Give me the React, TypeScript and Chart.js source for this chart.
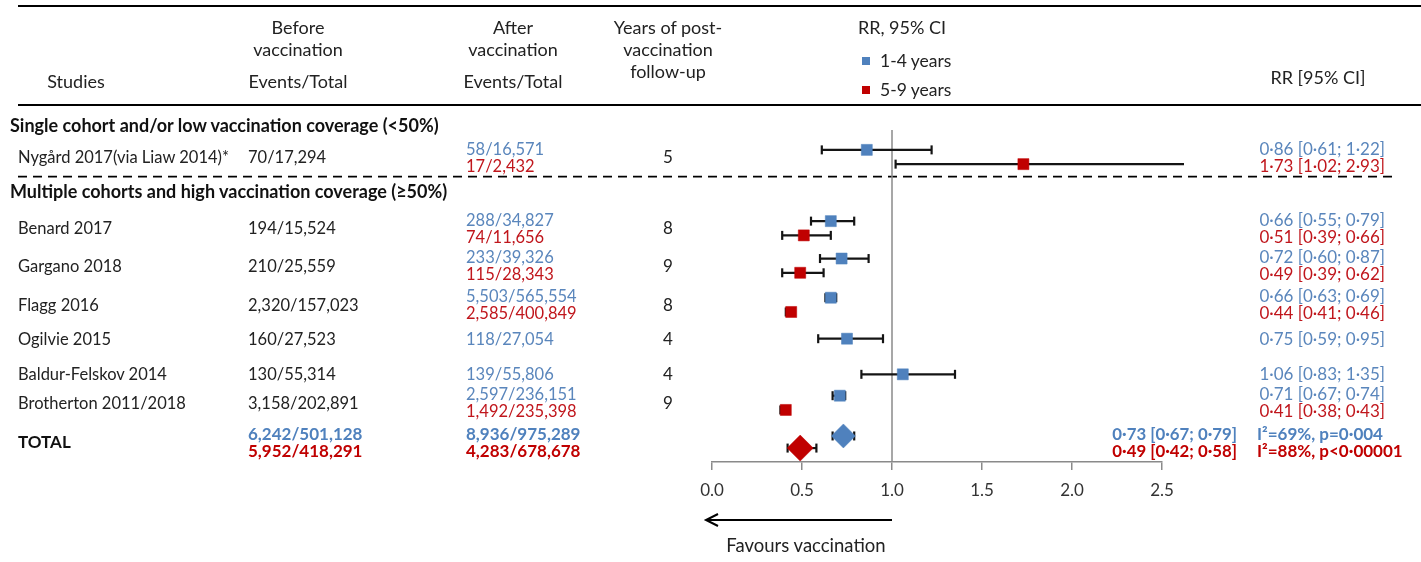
import React, { useEffect, useRef } from "react";
import { Chart, registerables } from "chart.js";

Chart.register(...registerables);

// ---------------- data ----------------
const studies = [
  "Nygård 2017(via Liaw 2014)*",
  "Benard 2017",
  "Gargano 2018",
  "Flagg 2016",
  "Ogilvie 2015",
  "Baldur-Felskov 2014",
  "Brotherton 2011/2018",
];
const beforeEvents = ["70/17,294", "194/15,524", "210/25,559", "2,320/157,023", "160/27,523", "130/55,314", "3,158/202,891"];
const afterShort = ["58/16,571", "288/34,827", "233/39,326", "5,503/565,554", "118/27,054", "139/55,806", "2,597/236,151"];
const afterLong: (string | null)[] = ["17/2,432", "74/11,656", "115/28,343", "2,585/400,849", null, null, "1,492/235,398"];
const followUpYears = [5, 8, 9, 8, 4, 4, 9];

const rrShort = [0.86, 0.66, 0.72, 0.66, 0.75, 1.06, 0.71];
const loShort = [0.61, 0.55, 0.6, 0.63, 0.59, 0.83, 0.67];
const hiShort = [1.22, 0.79, 0.87, 0.69, 0.95, 1.35, 0.74];
const rrLong: (number | null)[] = [1.73, 0.51, 0.49, 0.44, null, null, 0.41];
const loLong: (number | null)[] = [1.02, 0.39, 0.39, 0.41, null, null, 0.38];
const hiLong: (number | null)[] = [2.93, 0.66, 0.62, 0.46, null, null, 0.43];

const totalBefore = ["6,242/501,128", "5,952/418,291"];
const totalAfter = ["8,936/975,289", "4,283/678,678"];
const totalRR = [0.73, 0.49];
const totalLo = [0.67, 0.42];
const totalHi = [0.79, 0.58];
const heterogeneity = ["I²=69%, p=0·004", "I²=88%, p<0·00001"];

const xTicks = [0, 0.5, 1, 1.5, 2, 2.5];
const sectionTitles = [
  "Single cohort and/or low vaccination coverage (<50%)",
  "Multiple cohorts and high vaccination coverage (≥50%)",
];

// ---------------- layout ----------------
const W = 1421;
const H = 562;
const AREA_LEFT = 712;
const AREA_RIGHT = 1162;
const AREA_TOP = 130;
const AREA_BOTTOM = 462;
const AXIS_H = 60;
const Y_MIN = -0.758;
const Y_MAX = 8.561;
const studySlot = [0, 2, 3.05, 4.15, 5.1, 6.1, 6.9];
const TOTAL_SLOT = 8;
const SECTION_SLOT = [-0.9, 0.95];
const PT_OFF = 0.2;
const TXT_OFF = 8.5;

const BLUE = "#4F81BD";
const RED = "#C00000";
const BLUE_TXT = "#5A86BC";
const RED_TXT = "#C0161C";
const FONT = "Lato, 'Open Sans', sans-serif";

const slotPx = (v: number) => AREA_TOP + ((v - Y_MIN) / (Y_MAX - Y_MIN)) * (AREA_BOTTOM - AREA_TOP);
const fmt = (v: number) => v.toFixed(2).replace(".", "·");
const rrLabel = (r: number, lo: number, hi: number) => `${fmt(r)} [${fmt(lo)}; ${fmt(hi)}]`;

type TProps = {
  x: number;
  y: number;
  align?: "left" | "center" | "right";
  color?: string;
  bold?: boolean;
  size?: number;
  children: React.ReactNode;
};
function T({ x, y, align = "left", color = "#222", bold = false, size = 16.5, children }: TProps) {
  const lh = 22;
  const style: React.CSSProperties = {
    position: "absolute",
    top: y - lh / 2,
    lineHeight: `${lh}px`,
    height: lh,
    fontFamily: FONT,
    fontSize: size,
    fontWeight: bold ? 700 : 400,
    color,
    whiteSpace: "nowrap",
  };
  if (align === "left") style.left = x;
  else if (align === "right") style.right = W - x;
  else {
    style.left = x - 300;
    style.width = 600;
    style.textAlign = "center";
  }
  return <div style={style}>{children}</div>;
}

const decorPlugin = {
  id: "decor",
  beforeDraw(chart: any) {
    const ctx = chart.ctx;
    ctx.save();
    ctx.strokeStyle = "#000";
    ctx.lineWidth = 2;
    ctx.beginPath();
    ctx.moveTo(18, 6);
    ctx.lineTo(W, 6);
    ctx.moveTo(18, 105);
    ctx.lineTo(W, 105);
    ctx.stroke();
    const yDash = chart.scales.y.getPixelForValue(0.55);
    ctx.lineWidth = 1.6;
    ctx.setLineDash([9, 6]);
    ctx.beginPath();
    ctx.moveTo(18, yDash);
    ctx.lineTo(1392, yDash);
    ctx.stroke();
    ctx.restore();
  },
  afterDraw(chart: any) {
    const ctx = chart.ctx;
    const xs = chart.scales.x;
    const x1 = xs.getPixelForValue(1);
    const x0 = xs.getPixelForValue(0) - 6;
    const y = chart.chartArea.bottom + 58;
    ctx.save();
    ctx.strokeStyle = "#000";
    ctx.lineWidth = 2;
    ctx.beginPath();
    ctx.moveTo(x1, y);
    ctx.lineTo(x0, y);
    ctx.moveTo(x0 + 12, y - 6);
    ctx.lineTo(x0, y);
    ctx.lineTo(x0 + 12, y + 6);
    ctx.stroke();
    ctx.restore();
  },
};

export default function App() {
  const ref = useRef<HTMLCanvasElement | null>(null);

  useEffect(() => {
    if (!ref.current) return;
    const datasets: any[] = [];
    // reference line at RR = 1
    datasets.push({
      data: [
        { x: 1, y: Y_MIN },
        { x: 1, y: Y_MAX },
      ],
      showLine: true,
      borderColor: "#8a8a8a",
      borderWidth: 1.5,
      pointRadius: 0,
      order: 9,
      clip: false,
    });
    const addCI = (lo: number, hi: number, y: number, clip: any = false) => {
      datasets.push({
        data: [
          { x: lo, y },
          { x: hi, y },
        ],
        showLine: true,
        borderColor: "#141414",
        borderWidth: 2.2,
        pointStyle: "line",
        pointRotation: 90,
        pointRadius: 4.5,
        pointBorderWidth: 2.2,
        pointBorderColor: "#141414",
        order: 5,
        clip,
      });
    };
    const bluePts: any[] = [];
    const redPts: any[] = [];
    studies.forEach((_, i) => {
      const s = studySlot[i];
      const hasLong = rrLong[i] != null;
      const yb = hasLong ? s - PT_OFF : s;
      bluePts.push({ x: rrShort[i], y: yb });
      addCI(loShort[i], hiShort[i], yb);
      if (hasLong) {
        const yr = s + PT_OFF;
        redPts.push({ x: rrLong[i], y: yr });
        addCI(loLong[i] as number, hiLong[i] as number, yr, { left: false, top: false, bottom: false, right: 22 });
      }
    });
    const totY = [TOTAL_SLOT - 0.17, TOTAL_SLOT + 0.17];
    totY.forEach((y, k) => addCI(totalLo[k], totalHi[k], y));

    datasets.push({
      data: bluePts,
      pointStyle: "rect",
      pointRadius: 7.8,
      pointBackgroundColor: BLUE,
      pointBorderColor: BLUE,
      pointBorderWidth: 0.5,
      order: 1,
      clip: false,
    });
    datasets.push({
      data: redPts,
      pointStyle: "rect",
      pointRadius: 7.8,
      pointBackgroundColor: RED,
      pointBorderColor: RED,
      pointBorderWidth: 0.5,
      order: 1,
      clip: false,
    });
    datasets.push({
      data: [{ x: totalRR[0], y: totY[0] }],
      pointStyle: "rectRot",
      pointRadius: 12,
      pointBackgroundColor: BLUE,
      pointBorderColor: BLUE,
      pointBorderWidth: 0.5,
      order: 0,
      clip: false,
    });
    datasets.push({
      data: [{ x: totalRR[1], y: totY[1] }],
      pointStyle: "rectRot",
      pointRadius: 13,
      pointBackgroundColor: RED,
      pointBorderColor: RED,
      pointBorderWidth: 0.5,
      order: 0,
      clip: false,
    });

    const chart = new Chart(ref.current, {
      type: "scatter",
      data: { datasets },
      options: {
        animation: false,
        responsive: false,
        maintainAspectRatio: false,
        events: [],
        layout: {
          padding: { left: AREA_LEFT, right: W - AREA_RIGHT, top: AREA_TOP, bottom: H - AREA_BOTTOM - AXIS_H },
        },
        plugins: { legend: { display: false }, tooltip: { enabled: false } },
        scales: {
          x: {
            type: "linear",
            min: 0,
            max: 2.5,
            afterBuildTicks: (s: any) => {
              s.ticks = xTicks.map((v) => ({ value: v }));
            },
            afterFit: (s: any) => {
              s.height = AXIS_H;
            },
            ticks: {
              callback: (v: any) => Number(v).toFixed(1),
              font: { family: FONT, size: 17 },
              color: "#333",
              padding: 10,
              maxRotation: 0,
              autoSkip: false,
            },
            grid: {
              display: true,
              drawOnChartArea: false,
              drawTicks: true,
              tickLength: 8,
              color: "#8a8a8a",
              lineWidth: 1.5,
            },
            border: { display: true, color: "#8a8a8a", width: 1.5 },
          },
          y: { type: "linear", min: Y_MIN, max: Y_MAX, reverse: true, display: false },
        },
      },
      plugins: [decorPlugin],
    } as any);
    return () => chart.destroy();
  }, []);

  const texts: React.ReactNode[] = [];
  studies.forEach((name, i) => {
    const y = slotPx(studySlot[i]);
    const hasLong = afterLong[i] != null;
    texts.push(<T key={`n${i}`} x={18} y={y}>{name}</T>);
    texts.push(<T key={`b${i}`} x={248} y={y}>{beforeEvents[i]}</T>);
    texts.push(<T key={`yr${i}`} x={668} y={y} align="center" size={17}>{followUpYears[i]}</T>);
    if (hasLong) {
      texts.push(<T key={`as${i}`} x={466} y={y - TXT_OFF} color={BLUE_TXT}>{afterShort[i]}</T>);
      texts.push(<T key={`al${i}`} x={466} y={y + TXT_OFF} color={RED_TXT}>{afterLong[i]}</T>);
      texts.push(<T key={`rs${i}`} x={1385} y={y - TXT_OFF} align="right" color={BLUE_TXT} size={17}>{rrLabel(rrShort[i], loShort[i], hiShort[i])}</T>);
      texts.push(<T key={`rl${i}`} x={1385} y={y + TXT_OFF} align="right" color={RED_TXT} size={17}>{rrLabel(rrLong[i] as number, loLong[i] as number, hiLong[i] as number)}</T>);
    } else {
      texts.push(<T key={`as${i}`} x={466} y={y} color={BLUE_TXT}>{afterShort[i]}</T>);
      texts.push(<T key={`rs${i}`} x={1385} y={y} align="right" color={BLUE_TXT} size={17}>{rrLabel(rrShort[i], loShort[i], hiShort[i])}</T>);
    }
  });
  const ty = slotPx(TOTAL_SLOT);
  const tc = [BLUE, RED];
  texts.push(<T key="tot" x={18} y={ty} bold color="#111" size={17}>TOTAL</T>);
  [0, 1].forEach((k) => {
    const y = ty + (k === 0 ? -TXT_OFF : TXT_OFF);
    texts.push(<T key={`tb${k}`} x={248} y={y} bold color={tc[k]} size={17}>{totalBefore[k]}</T>);
    texts.push(<T key={`ta${k}`} x={466} y={y} bold color={tc[k]} size={17}>{totalAfter[k]}</T>);
    texts.push(<T key={`tr${k}`} x={1237} y={y} align="right" bold color={tc[k]} size={16.8}>{rrLabel(totalRR[k], totalLo[k], totalHi[k])}</T>);
    texts.push(<T key={`th${k}`} x={1257} y={y} bold color={tc[k]} size={17}>{heterogeneity[k]}</T>);
  });
  sectionTitles.forEach((s, k) => {
    texts.push(<T key={`sec${k}`} x={10} y={slotPx(SECTION_SLOT[k])} bold color="#111" size={18}>{s}</T>);
  });

  const hs = 18;
  return (
    <div style={{ position: "absolute", left: 0, top: 0, width: W, height: H, background: "#fff", overflow: "hidden" }}>
      <canvas ref={ref} width={W} height={H} style={{ position: "absolute", left: 0, top: 0, width: W, height: H }} />
      <T x={76} y={81} align="center" size={hs}>Studies</T>
      <T x={298} y={27} align="center" size={hs}>Before</T>
      <T x={298} y={49} align="center" size={hs}>vaccination</T>
      <T x={298} y={81} align="center" size={hs}>Events/Total</T>
      <T x={513} y={27} align="center" size={hs}>After</T>
      <T x={513} y={49} align="center" size={hs}>vaccination</T>
      <T x={513} y={81} align="center" size={hs}>Events/Total</T>
      <T x={668} y={27} align="center" size={hs}>Years of post-</T>
      <T x={668} y={49} align="center" size={hs}>vaccination</T>
      <T x={668} y={71} align="center" size={hs}>follow-up</T>
      <T x={902} y={27} align="center" size={hs}>RR, 95% CI</T>
      <div style={{ position: "absolute", left: 862, top: 57, width: 8, height: 8, background: BLUE }} />
      <div style={{ position: "absolute", left: 862, top: 86, width: 8, height: 8, background: RED }} />
      <T x={880} y={61} size={17.5}>1-4 years</T>
      <T x={880} y={90} size={17.5}>5-9 years</T>
      <T x={1318} y={77} align="center" size={hs}>RR [95% CI]</T>
      <T x={806} y={545} align="center" size={18.5}>Favours vaccination</T>
      {texts}
    </div>
  );
}
